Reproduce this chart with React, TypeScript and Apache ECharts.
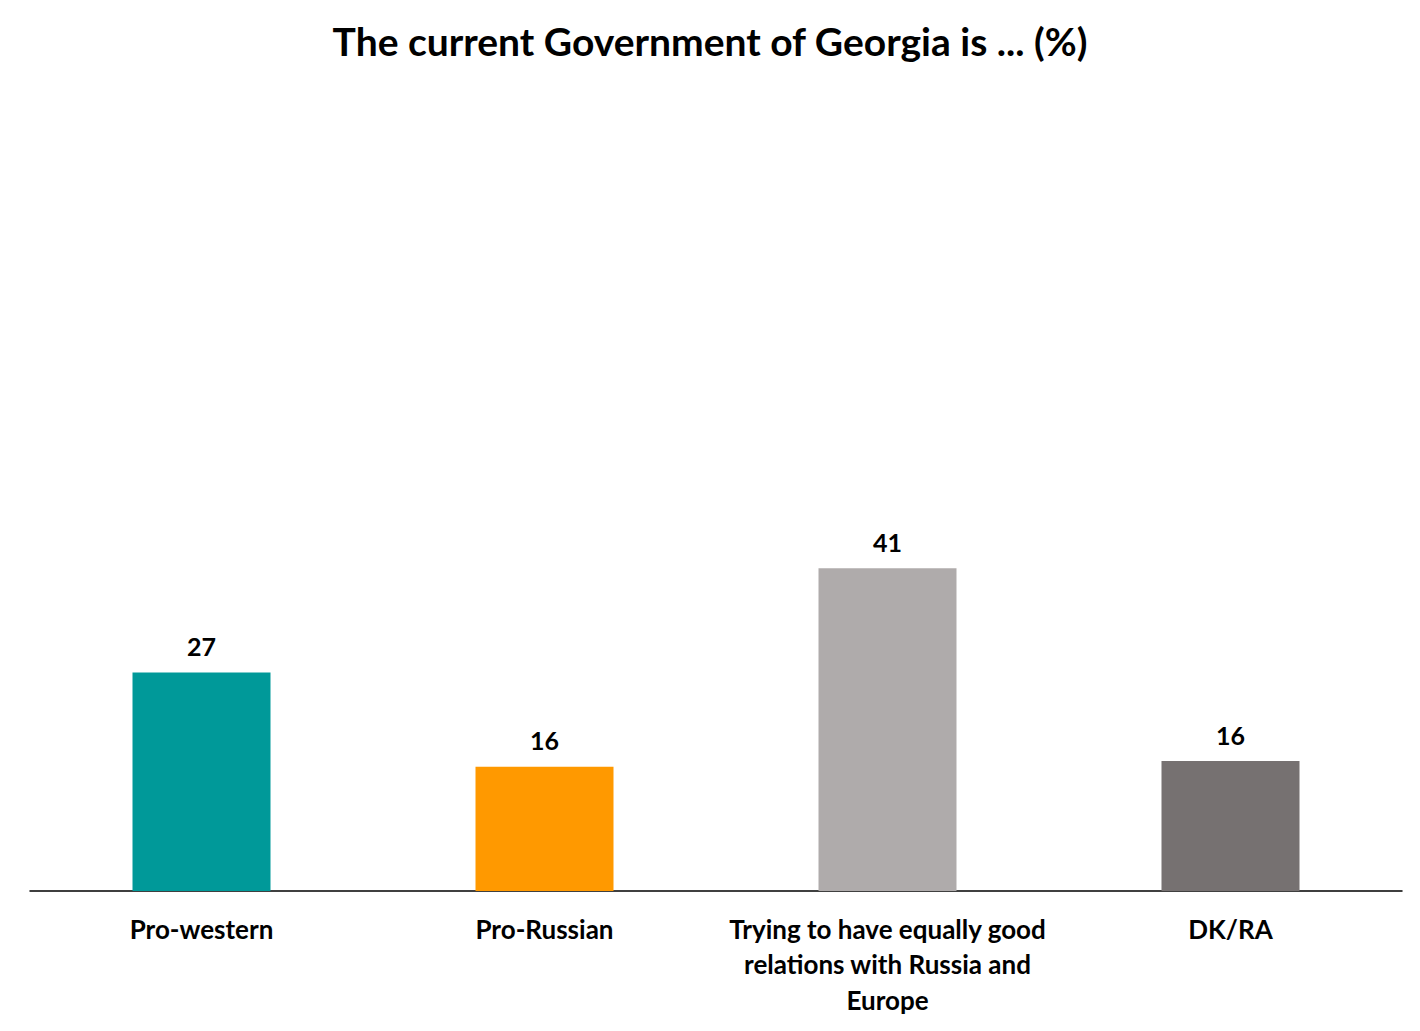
import React, { useEffect, useRef } from "react";
import * as echarts from "echarts";

const TITLE = "The current Government of Georgia is ... (%)";
const categories = [
  "Pro-western",
  "Pro-Russian",
  "Trying to have equally good\nrelations with Russia and\nEurope",
  "DK/RA",
];
const values = [27.4, 15.6, 40.5, 16.3];
const colors = ["#009999", "#FF9900", "#AFABAB", "#767171"];

const FONT = "Lato, 'Noto Sans', sans-serif";

export default function App() {
  const ref = useRef<HTMLDivElement>(null);
  useEffect(() => {
    document.body.style.margin = "0";
    if (!ref.current) return;
    const chart = echarts.init(ref.current, undefined, { renderer: "svg" });
    chart.setOption({
      animation: false,
      backgroundColor: "#ffffff",
      title: {
        text: TITLE,
        left: "center",
        top: 16,
        textStyle: { fontFamily: FONT, fontWeight: "bold", fontSize: 39, color: "#000" },
      },
      grid: { left: 30, right: 18, top: 94, bottom: 140, containLabel: false },
      xAxis: {
        type: "category",
        data: categories,
        axisLine: { show: true, lineStyle: { color: "#000", width: 1.5 } },
        axisTick: { show: false },
        axisLabel: {
          interval: 0,
          margin: 20,
          fontFamily: FONT,
          fontWeight: "bold",
          fontSize: 26,
          lineHeight: 35.5,
          color: "#000",
        },
      },
      yAxis: {
        type: "value",
        min: 0,
        max: 100,
        show: false,
        splitLine: { show: false },
      },
      series: [
        {
          type: "bar",
          barWidth: 138,
          data: values.map((v, i) => ({ value: v, itemStyle: { color: colors[i] } })),
          label: {
            show: true,
            position: "top",
            distance: 14,
            formatter: (p: any) => String(Math.round(p.value)),
            fontFamily: FONT,
            fontWeight: "bold",
            fontSize: 25,
            color: "#000",
          },
        },
      ],
    });
    return () => chart.dispose();
  }, []);
  return <div ref={ref} style={{ width: 1420, height: 1031 }} />;
}
